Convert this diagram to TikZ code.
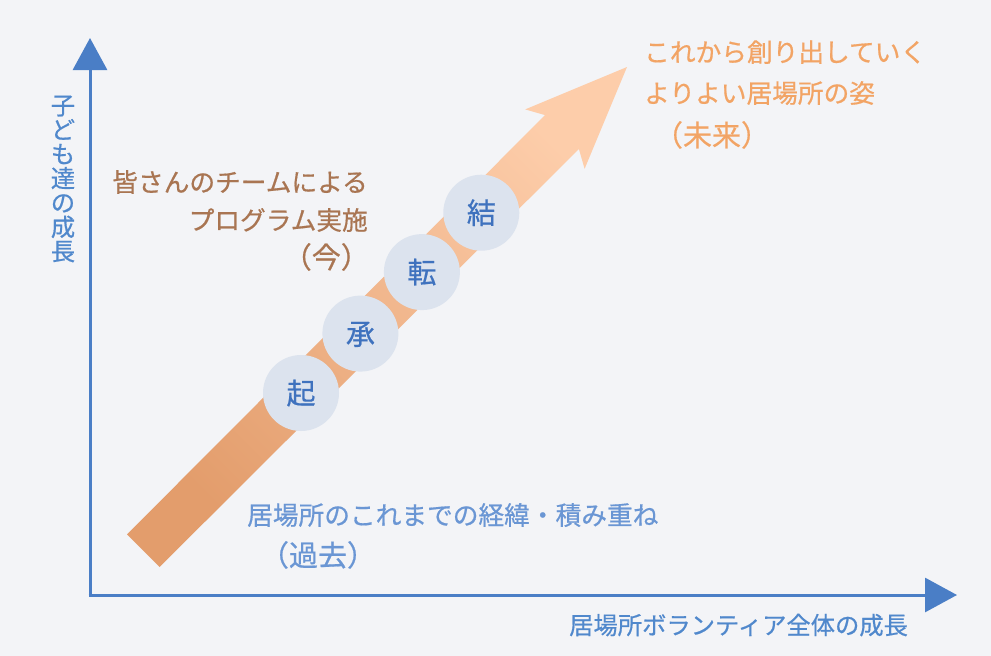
\documentclass[tikz,border=0pt]{standalone}
\usepackage{fontspec}
\setmainfont{Noto Sans CJK JP}[FakeBold=0.6]
\usetikzlibrary{arrows.meta}
\definecolor{bg}{HTML}{F3F4F7}
\definecolor{axisblue}{HTML}{4A7EC6}
\definecolor{lblblue}{HTML}{5088CC}
\definecolor{pastblue}{HTML}{6A96D4}
\definecolor{circfill}{HTML}{DCE3EE}
\definecolor{circtext}{HTML}{3F72BE}
\definecolor{nowbrown}{HTML}{A97552}
\definecolor{futorange}{HTML}{F2A465}
\definecolor{arrdark}{HTML}{E39D6C}
\definecolor{arrlight}{HTML}{FDCDAA}
\tikzset{
  axisline/.style={draw=axisblue, line width=3pt, -{Triangle[length=32pt,width=34pt]}},
  bigtxt/.style={inner sep=0pt, text height=22.6pt, text depth=3.1pt, font=\fontsize{25.7}{30}\selectfont},
  partxt/.style={inner sep=0pt, text height=25.5pt, text depth=3.5pt, font=\fontsize{29}{32}\selectfont},
  axtxt/.style={inner sep=0pt, text height=21.4pt, text depth=2.9pt, font=\fontsize{24.3}{28}\selectfont, text=lblblue},
  circ/.style={circle, fill=circfill, minimum size=76pt, inner sep=0pt, text=circtext,
    text height=25.5pt, text depth=3.5pt, font=\fontsize{29}{32}\selectfont}
}
\begin{document}
\begin{tikzpicture}[x=1pt,y=-1pt]
\fill[bg] (0,0) rectangle (991,656);
\useasboundingbox (0,0) rectangle (991,656);

% axes
\coordinate (o) at (90,595);
\coordinate (ytip) at (90,38);
\coordinate (xtip) at (957,595);
\draw[axisline] (o) -- (ytip);
\draw[axisline] ([xshift=-1.5pt]o) -- (xtip);

% big arrow
\shade[top color=arrdark, bottom color=arrlight, shading angle=135]
  (627,67) -- (584.6,168.8) -- (578.9,149.0) -- (159.6,567.0) -- (127.0,534.4)
  -- (545.0,115.1) -- (525.2,109.4) -- cycle;

% circles
\node[circ] (ki) at (301.0,393.0) {起};
\node[circ] (sho) at (360.4,333.6) {承};
\node[circ] (ten) at (421.9,272.1) {転};
\node[circ] (ketsu) at (481.3,212.7) {結};

% axis labels
\node[axtxt, anchor=west] (xlab) at (569,625) {居場所ボランティア全体の成長};
\node[inner sep=0pt, text=lblblue, font=\fontsize{24.3}{24.3}\selectfont, align=center] (ylab) at (63,179)
  {子\\ど\\も\\達\\の\\成\\長};

% future
\node[bigtxt, text=futorange, anchor=west] (f1) at (644,52) {これから創り出していく};
\node[bigtxt, text=futorange, anchor=west] (f2) at (644,93) {よりよい居場所の姿};
\node[partxt, text=futorange] (f3) at (712,135) {（未来）};

% now
\node[bigtxt, text=nowbrown, anchor=east] (n1) at (368,182) {皆さんのチームによる};
\node[bigtxt, text=nowbrown, anchor=east] (n2) at (368,220) {プログラム実施};
\node[partxt, text=nowbrown, anchor=east] (n3) at (370,257) {（今）};

% past
\node[bigtxt, text=pastblue, anchor=west] (p1) at (247,515) {居場所のこれまでの経緯・積み重ね};
\node[partxt, text=pastblue] (p2) at (318,555) {（過去）};
\end{tikzpicture}
\end{document}
